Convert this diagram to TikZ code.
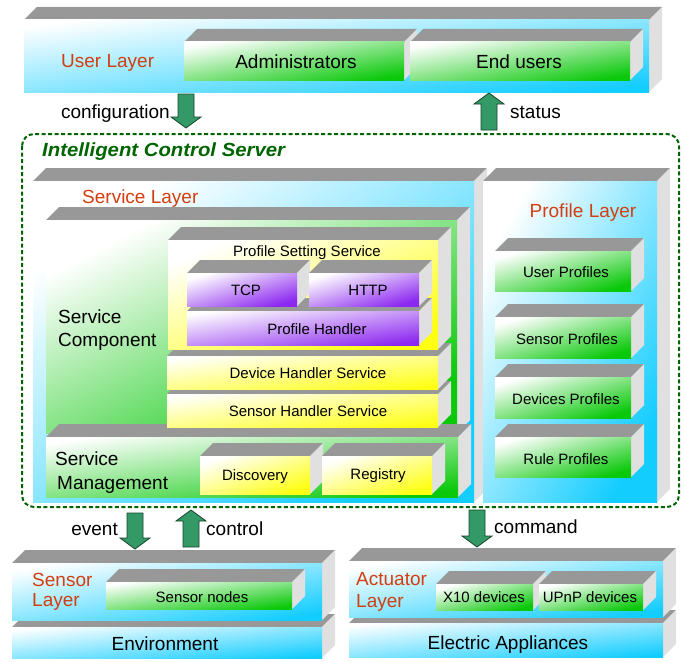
\documentclass[tikz,border=0pt]{standalone}
\usepackage{fontspec}
\setmainfont{Liberation Sans}

\definecolor{layerblue}{RGB}{20,205,255}
\definecolor{boxgreen}{RGB}{10,200,10}
\definecolor{boxyellow}{RGB}{255,255,20}
\definecolor{boxpurple}{RGB}{140,40,240}
\definecolor{topgray}{RGB}{152,152,152}
\definecolor{sidegray}{RGB}{224,224,224}
\definecolor{arrowgreen}{RGB}{51,153,102}
\definecolor{layerred}{RGB}{210,62,16}
\definecolor{servergreen}{RGB}{0,100,0}

% 3D box: name, left, top, right, bottom (front face), colour; depth 13.
% The front face fades from white (top left) to the colour (bottom right)
% along the box diagonal.
\newcommand\tdbox[6]{%
  \fill[topgray] (#2,#3) -- (#2+13,#3-13) -- (#4+13,#3-13) -- (#4,#3) -- cycle;
  \fill[sidegray] (#4,#3) -- (#4+13,#3-13) -- (#4+13,#5-13) -- (#4,#5) -- cycle;
  \pgfmathsetmacro\shadeang{atan(abs(#5-#3)/abs(#4-#2))}%
  \shade[top color=white, middle color=#6!33, bottom color=#6, shading angle=\shadeang]
    (#2,#3) rectangle (#4,#5);
  \coordinate (#1) at ({(#2+#4)/2},{(#3+#5)/2});
}

% block arrow: name, x, tail y, tip y
\newcommand\blockarrow[4]{%
  \pgfmathsetmacro\bdir{(#4>#3) ? 1 : -1}%
  \coordinate (#1 tail) at (#2,#3);
  \coordinate (#1 tip) at (#2,#4);
  \draw[flow] ([xshift=-8pt]#1 tail) -- ([xshift=8pt]#1 tail)
    -- (#2+8,#4-11*\bdir) -- (#2+15,#4-11*\bdir) -- (#1 tip)
    -- (#2-15,#4-11*\bdir) -- (#2-8,#4-11*\bdir) -- cycle;
}

\begin{document}
\begin{tikzpicture}[x=1pt, y=-1pt,
  big/.style={font=\fontsize{19}{23}\selectfont, inner sep=0, anchor=base},
  small/.style={font=\fontsize{15}{18}\selectfont, inner sep=0, anchor=base},
  layerlabel/.style={big, text=layerred, anchor=base west},
  flow/.style={draw=black!55!arrowgreen, fill=arrowgreen, line width=0.8pt, line join=miter}]
\useasboundingbox (0,0) rectangle (685,661);

% ---------- user layer ----------
\tdbox{userlayer}{24}{20}{649}{92}{layerblue}
\tdbox{admins}{184}{42}{404}{80}{boxgreen}
\tdbox{endusers}{410}{42}{630}{80}{boxgreen}
\node[layerlabel] (userlbl) at (61,67) {User Layer};
\node[big] (adminlbl) at (296,68) {Administrators};
\node[big] (enduserlbl) at (519,68) {End users};

% ---------- server ----------
\draw[servergreen, line width=2pt, dash pattern=on 4pt off 2.5pt, rounded corners=12pt]
  (22,134) rectangle (679,507);
\node[inner sep=0, anchor=base west, text=servergreen, font=\fontsize{19}{22}\selectfont\bfseries\itshape]
  (serverlbl) at (42,156) {\scalebox{1.07}[1]{Intelligent Control Server}};

% service layer
\tdbox{servicelayer}{33}{181}{474}{502}{layerblue}
\node[layerlabel] (servicelbl) at (82,203) {Service Layer};
\tdbox{component}{46}{220}{457}{433}{boxgreen}
\node[big, anchor=base west] (componentlbl1) at (58,323) {Service};
\node[big, anchor=base west] (componentlbl2) at (58,346) {Component};
\tdbox{management}{46}{437}{458}{497}{boxgreen}
\node[big, anchor=base west] (managementlbl1) at (55,465) {Service};
\node[big, anchor=base west] (managementlbl2) at (57,489) {Management};

\tdbox{sensorhandler}{167}{394}{438}{427}{boxyellow}
\tdbox{devicehandler}{167}{356}{438}{389}{boxyellow}
\tdbox{profilesetting}{168}{240}{438}{349}{boxyellow}
\node[small] (pslbl) at (307,256) {Profile Setting Service};
\node[small] (dhlbl) at (308,378) {Device Handler Service};
\node[small] (shlbl) at (308,416) {Sensor Handler Service};

\tdbox{profilehandler}{187}{311}{419}{345}{boxpurple}
\tdbox{tcp}{187}{273}{297}{306}{boxpurple}
\tdbox{http}{309}{273}{419}{306}{boxpurple}
\node[small] (tcplbl) at (246,295) {TCP};
\node[small] (httplbl) at (368,295) {HTTP};
\node[small] (phlbl) at (317,334) {Profile Handler};

\tdbox{discovery}{200}{456}{310}{494}{boxyellow}
\tdbox{registry}{322}{456}{432}{494}{boxyellow}
\node[small] (disclbl) at (255,480) {Discovery};
\node[small] (reglbl) at (378,479) {Registry};

% profile layer
\tdbox{profilelayer}{483}{181}{657}{502}{layerblue}
\node[big, text=layerred] (profilelbl) at (583,217) {Profile Layer};
\tdbox{userprof}{495}{251}{631}{291}{boxgreen}
\tdbox{sensorprof}{495}{317}{631}{358}{boxgreen}
\tdbox{deviceprof}{495}{377}{631}{418}{boxgreen}
\tdbox{ruleprof}{495}{437}{631}{477}{boxgreen}
\node[small] (upl) at (566,277) {User Profiles};
\node[small] (spl) at (567,344) {Sensor Profiles};
\node[small] (dpl) at (566,404) {Devices Profiles};
\node[small] (rpl) at (566,464) {Rule Profiles};

% ---------- sensor side ----------
\tdbox{environment}{12}{627}{322}{658}{layerblue}
\tdbox{sensorlayer}{12}{563}{322}{620}{layerblue}
\tdbox{sensornodes}{106}{582}{292}{609}{boxgreen}
\node[layerlabel] (sensorlbl1) at (32,586) {Sensor};
\node[layerlabel] (sensorlbl2) at (32,606) {Layer};
\node[small] (snlbl) at (202,602) {Sensor nodes};
\node[big] (envlbl) at (165,650) {Environment};

% ---------- actuator side ----------
\tdbox{appliances}{349}{623}{663}{657}{layerblue}
\tdbox{actuatorlayer}{349}{561}{663}{617}{layerblue}
\tdbox{xten}{436}{584}{533}{610}{boxgreen}
\tdbox{upnp}{539}{584}{643}{610}{boxgreen}
\node[layerlabel] (actlbl1) at (356,585) {Actuator};
\node[layerlabel] (actlbl2) at (356,607) {Layer};
\node[small] (xtenlbl) at (484,602) {X10 devices};
\node[small] (upnplbl) at (590,602) {UPnP devices};
\node[big] (applbl) at (508,649) {Electric Appliances};

% ---------- flow arrows ----------
\blockarrow{config}{186}{94}{128}
\node[big, anchor=base east] (configlbl) at (170,118) {configuration};
\blockarrow{status}{489}{130}{93}
\node[big, anchor=base west] (statuslbl) at (510,118) {status};
\blockarrow{event}{135}{513}{549}
\node[big, anchor=base east] (eventlbl) at (118,535) {event};
\blockarrow{control}{191}{547}{510}
\node[big, anchor=base west] (controllbl) at (206,535) {control};
\blockarrow{command}{477}{510}{547}
\node[big, anchor=base west] (commandlbl) at (494,533) {command};
\end{tikzpicture}
\end{document}
